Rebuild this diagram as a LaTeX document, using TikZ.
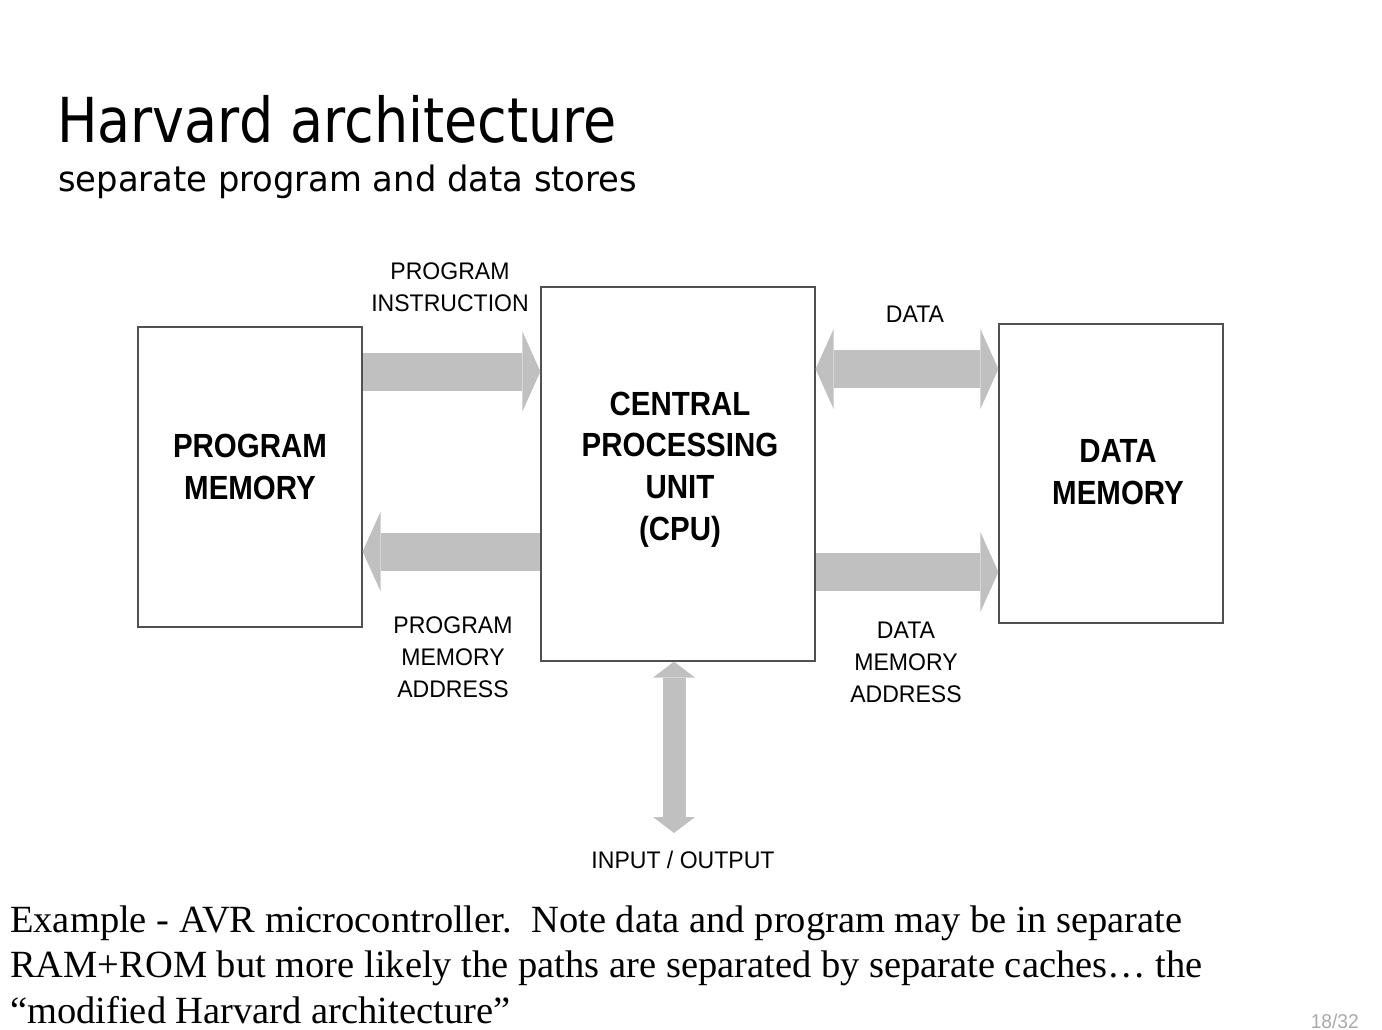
\documentclass[tikz,border=0pt]{standalone}
\usepackage{fontspec}
\usetikzlibrary{arrows.meta}
\newfontfamily\titlefont[FakeStretch=0.87]{DejaVu Sans}
\newfontfamily\subtitlefont[FakeStretch=0.965]{DejaVu Sans}
\newfontfamily\labelfont[FakeStretch=0.96]{Liberation Sans}
\newfontfamily\boldlabelfont[FakeStretch=0.88]{Liberation Sans Bold}
\newfontfamily\bodyfont{Liberation Serif}
\definecolor{busgray}{RGB}{192,192,192}
\definecolor{boxline}{RGB}{80,80,80}
\definecolor{pagegray}{RGB}{170,170,170}
\tikzset{
  box/.style={draw=boxline, line width=1.2pt, fill=white, inner sep=0pt},
  lbl/.style={align=center, inner sep=0pt, font=\labelfont\fontsize{24}{32}\selectfont},
  blbl/.style={align=center, inner sep=0pt, font=\boldlabelfont\fontsize{33.5}{41.7}\selectfont},
  busone/.style={busgray, line width=38pt, -{Triangle[length=18pt, width=80pt, line width=0pt]}},
  bustwo/.style={busgray, line width=38pt, {Triangle[length=18pt, width=80pt, line width=0pt]}-{Triangle[length=18pt, width=80pt, line width=0pt]}},
  busio/.style={busgray, line width=23pt, {Triangle[length=16pt, width=42pt, line width=0pt]}-{Triangle[length=16pt, width=42pt, line width=0pt]}},
}
\begin{document}
\begin{tikzpicture}[x=1pt, y=-1pt]
\useasboundingbox (0,0) rectangle (1382,1030);
% title
\node[anchor=base west, inner sep=0pt, font=\titlefont\fontsize{62}{70}\selectfont] (title) at (57,143) {Harvard architecture};
\node[anchor=base west, inner sep=0pt, font=\subtitlefont\fontsize{35}{40}\selectfont] (subtitle) at (58,192) {separate program and data stores};
% boxes
\node[box, minimum width=224pt, minimum height=300pt] (pm) at (250,477) {};
\node[box, minimum width=274pt, minimum height=374pt] (cpu) at (678,474) {};
\node[box, minimum width=224pt, minimum height=299pt] (dm) at (1111,473.5) {};
% box texts
\node[blbl] (pmtext) at (250,467) {PROGRAM\\MEMORY};
\node[blbl] (cputext) at (680,469.5) {CENTRAL\\PROCESSING\\UNIT\\(CPU)};
\node[blbl] (dmtext) at (1118,472) {DATA\\MEMORY};
% coordinates for I/O
\coordinate (io) at (674,833);
% buses
\draw[busone] (pm.east |- 0,371.5) -- (cpu.west |- 0,371.5);
\draw[busone] (cpu.west |- 0,551.5) -- (pm.east |- 0,551.5);
\draw[bustwo] (cpu.east |- 0,369) -- (dm.west |- 0,369);
\draw[busone] (cpu.east |- 0,572) -- (dm.west |- 0,572);
\draw[busio] (cpu.south -| io) -- (io);
% labels
\node[lbl] (lpi) at (450,287) {PROGRAM\\INSTRUCTION};
\node[lbl] (ldata) at (915,314) {DATA};
\node[lbl] (lpma) at (453,657) {PROGRAM\\MEMORY\\ADDRESS};
\node[lbl] (ldma) at (906,662) {DATA\\MEMORY\\ADDRESS};
\node[lbl] (lio) at (683,860) {INPUT / OUTPUT};
% bottom text (base anchor = last line)
\node[anchor=base west, inner sep=0pt, align=left, font=\bodyfont\fontsize{38.5}{45.5}\selectfont] (body) at (10,1023)
 {Example - AVR microcontroller.\ \ Note data and program may be in separate\\
  RAM+ROM but more likely the paths are separated by separate caches\ldots{} the\\
  “modified Harvard architecture”};
\node[anchor=east, inner sep=0pt, text=pagegray, font=\labelfont\fontsize{20}{22}\selectfont] (page) at (1359,1021) {18/32};
\end{tikzpicture}
\end{document}
